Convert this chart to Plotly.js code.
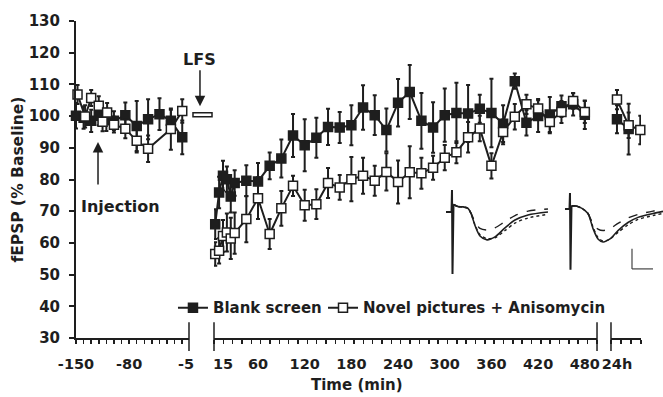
<!DOCTYPE html>
<html><head><meta charset="utf-8">
<script src="https://cdn.plot.ly/plotly-3.0.1.min.js"></script>
<style>html,body{margin:0;padding:0;background:#fff;}#chart{width:663px;height:397px;}</style>
</head><body><div id="chart"></div>
<script>
// ---------- data ----------
// baseline (min before LFS)
const blankBaseT   = [-150,-140,-130,-120,-110,-100,-85,-70,-55,-40,-25,-10];
const blankBaseY   = [100.1,99.5,98.5,100.1,98.8,98.5,100.3,96.9,99.0,100.6,98.5,93.3];
const blankBaseErr = [4,3.5,3.5,3,3.5,3,4,7.9,6.3,5,3.5,5.3];
const novelBaseT   = [-148,-138,-130,-120,-115,-109,-100,-85,-70,-55,-25,-10];
const novelBaseY   = [106.8,99.9,105.7,103.3,98.2,101.1,97.3,96.0,92.2,89.7,95.9,101.6];
const novelBaseErr = [3,3.5,2.5,3,3,3,2.5,3,3.7,4.2,6.5,3.7];
// post-LFS (min)
const postT = [5,10,15,20,25,30,45,60,75,90,105,120,135,150,165,180,195,210,225,240,255,270,285,300,315,330,345,360,375,390,405,420,435,450,465,480];
const blankPostY = [65.9,75.9,81.2,80.1,74.6,78.9,79.6,79.4,84.3,86.6,93.9,90.8,93.2,96.6,96.4,97.1,102.7,100.3,95.6,104.2,107.6,98.5,96.4,100.3,101.0,100.8,102.3,101.0,97.6,111.0,97.9,100.0,100.5,103.1,103.7,100.4];
const blankPostErr = [4.7,5,4.7,4,5,4,4.9,5.8,4.2,6,6.8,8.2,6.3,5.7,4.9,6.3,7,6.3,6.8,7.5,8.5,8.8,8,8.4,9.5,9,4.4,10.8,5.8,2.4,4,5,5.5,3.4,3.5,4.5];
const novelPostY = [56.5,57.5,62.2,63.3,61.4,63.1,67.5,74.1,62.8,70.9,78.0,71.9,72.2,78.9,77.5,80.1,81.2,79.6,82.4,79.2,82.3,82.0,83.7,86.9,88.6,93.3,96.1,84.3,95.0,99.8,103.7,102.4,98.1,101.3,104.8,101.3];
const novelPostErr = [3.7,4,5,6,6.5,6.5,7.3,6.6,4.7,5.5,3.2,4.9,4.7,4.7,3.9,7,5.7,4.7,5.9,6.8,8.2,4.9,3.8,4,3.5,4.8,4,4,3.9,4,3,3,3.5,3.5,2.5,3.5];
// 24 h
const blankDayT = [1440,1455];
const blankDayY = [99.0,95.9];
const blankDayErr = [4.4,8];
const novelDayT = [1440,1455,1470];
const novelDayY = [105.2,97.1,95.6];
const novelDayErr = [3,4,4.5];
// tick labels
const baseTickVals = [-150,-80,-5];
const baseTickText = ['-150','-80','-5'];
const postTickVals = [15,60,120,180,240,300,360,420,480];
const postTickText = ['15','60','120','180','240','300','360','420','480'];
const dayTickVals = [1440];
const dayTickText = ['24h'];
// sample fEPSP traces (ms, mV)
const art1T = [0.6,1.15,1.2,1.25,1.35];
const art1V = [0,0,0.73,-2.07,0.25];
const wave1T = [1.35,1.8,2.3,2.8,3.1,3.5,4.0,4.7,5.5,6.5,7.5,8.8,10.8];
const wave1Solid  = [0.25,0.18,0.17,0.12,-0.05,-0.45,-0.8,-0.93,-0.83,-0.53,-0.27,-0.1,0.0];
const wave1Dashed = [0.25,0.18,0.17,0.12,-0.04,-0.33,-0.55,-0.6,-0.53,-0.32,-0.12,0.03,0.1];
const wave1Dotted = [0.25,0.18,0.17,0.12,-0.05,-0.43,-0.76,-0.89,-0.86,-0.62,-0.37,-0.2,-0.08];
const art2T = [0.7,1.15,1.2,1.25,1.35];
const art2V = [0.1,0.1,0.63,-1.93,0.2];
const wave2T = [1.35,1.8,2.4,3.0,3.5,4.0,4.5,5.2,6.0,7.0,8.0,9.5,10.5];
const wave2Solid  = [0.2,0.2,0.12,-0.05,-0.55,-0.9,-1.0,-0.9,-0.62,-0.35,-0.18,-0.05,0.02];
const wave2Dashed = [0.2,0.2,0.12,-0.05,-0.4,-0.57,-0.62,-0.55,-0.38,-0.2,-0.08,0.03,0.08];
const wave2Dotted = [0.2,0.2,0.12,-0.05,-0.5,-0.85,-0.97,-0.9,-0.68,-0.43,-0.25,-0.12,-0.05];

// ---------- styling ----------
const INK = '#1e1e1e';
const FONT = 'DejaVu Sans, Verdana, sans-serif';
function f(size) { return {family: FONT, size: size, color: INK, weight: 'bold'}; }

function series(x, y, err, xa, filled, name, showleg, leg) {
  return {
    type: 'scatter', mode: 'lines+markers', x: x, y: y, xaxis: xa, yaxis: 'y',
    name: name, legendgroup: name, showlegend: showleg, legend: leg,
    line: {color: INK, width: 2},
    marker: {symbol: 'square', size: 9, color: filled ? INK : '#ffffff', line: {color: INK, width: 1.5}},
    error_y: {type: 'data', array: err, visible: true, color: INK, thickness: 2, width: 2},
    cliponaxis: false, hoverinfo: 'skip'
  };
}
function wave(x, y, xa, ya, dash, w) {
  return {type: 'scatter', mode: 'lines', x: x, y: y, xaxis: xa, yaxis: ya, showlegend: false,
    line: {color: INK, width: w || 1.4, dash: dash || 'solid', shape: 'spline', smoothing: 0.8}, hoverinfo: 'skip', cliponaxis: false};
}
function artifact(x, y, xa, ya) {
  return {type: 'scatter', mode: 'lines', x: x, y: y, xaxis: xa, yaxis: ya, showlegend: false,
    line: {color: INK, width: 2}, hoverinfo: 'skip', cliponaxis: false};
}

const data = [
  series(blankBaseT, blankBaseY, blankBaseErr, 'x', true, 'Blank screen', false, 'legend'),
  series(postT, blankPostY, blankPostErr, 'x2', true, 'Blank screen', true, 'legend'),
  series(blankDayT, blankDayY, blankDayErr, 'x3', true, 'Blank screen', false, 'legend'),
  series(novelBaseT, novelBaseY, novelBaseErr, 'x', false, 'Novel pictures + Anisomycin', false, 'legend2'),
  series(postT, novelPostY, novelPostErr, 'x2', false, 'Novel pictures + Anisomycin', true, 'legend2'),
  series(novelDayT, novelDayY, novelDayErr, 'x3', false, 'Novel pictures + Anisomycin', false, 'legend2'),
  artifact(art1T, art1V, 'x4', 'y4'),
  wave(wave1T, wave1Dashed, 'x4', 'y4', 'dash'),
  wave(wave1T, wave1Dotted, 'x4', 'y4', 'dot'),
  wave(wave1T, wave1Solid, 'x4', 'y4', 'solid', 1.6),
  artifact(art2T, art2V, 'x5', 'y5'),
  wave(wave2T, wave2Dashed, 'x5', 'y5', 'dash'),
  wave(wave2T, wave2Dotted, 'x5', 'y5', 'dot'),
  wave(wave2T, wave2Solid, 'x5', 'y5', 'solid', 1.6)
];

function segAxis(domain, range, tv, tt, tick0, dtick) {
  return {
    domain: domain, range: range, anchor: 'y', showline: true, linewidth: 2, linecolor: INK,
    zeroline: false, showgrid: false, tickmode: 'array', tickvals: tv, ticktext: tt,
    ticks: '', tickfont: f(14.5), ticklabelstandoff: 12,
    minor: {tickmode: 'linear', tick0: tick0, dtick: dtick, ticks: 'outside', ticklen: 4, tickwidth: 1.5, tickcolor: INK, showgrid: false}
  };
}
const hidden = {visible: false, showgrid: false, zeroline: false, fixedrange: true};
const legendBase = {orientation: 'h', xanchor: 'left', y: 0.095, yanchor: 'middle',
  bgcolor: 'rgba(0,0,0,0)', font: f(15), itemwidth: 30};

const layout = {
  width: 663, height: 397,
  margin: {l: 76, r: 0, t: 21, b: 59},
  paper_bgcolor: '#ffffff', plot_bgcolor: 'rgba(0,0,0,0)',
  font: f(15),
  showlegend: true,
  legend: Object.assign({x: 0.1652}, legendBase),
  legend2: Object.assign({x: 0.4208}, legendBase),
  xaxis: segAxis([0, 0.1925], [-150, -1.1], baseTickVals, baseTickText, -150, 10),
  xaxis2: segAxis([0.2351, 0.8876], [3.45, 495.7], postTickVals, postTickText, 3.45, 12),
  xaxis3: segAxis([0.9114, 0.9625], [1432.3, 1470.9], dayTickVals, dayTickText, 1432.3, 12.85),
  yaxis: {domain: [0, 1], range: [30, 130], anchor: 'x', showline: true, linewidth: 2, linecolor: INK,
    zeroline: false, showgrid: false, tickmode: 'linear', tick0: 30, dtick: 10, ticks: 'outside',
    ticklen: 5, tickwidth: 2, tickcolor: INK, tickfont: f(15), ticklabelstandoff: 6},
  xaxis4: Object.assign({domain: [0.6201, 0.8245], range: [0, 12], anchor: 'y4'}, hidden),
  yaxis4: Object.assign({domain: [0.183, 0.4826], range: [-2.27, 0.9], anchor: 'x4'}, hidden),
  xaxis5: Object.assign({domain: [0.8211, 1], range: [0, 10.5], anchor: 'y5'}, hidden),
  yaxis5: Object.assign({domain: [0.183, 0.4826], range: [-2.27, 0.9], anchor: 'x5'}, hidden),
  shapes: [
    {type: 'line', xref: 'x domain', x0: 1, x1: 1, yref: 'paper', y0: -0.041, y1: 0.05, line: {color: INK, width: 1.5}},
    {type: 'line', xref: 'x2 domain', x0: 0, x1: 0, yref: 'paper', y0: -0.041, y1: 0.05, line: {color: INK, width: 1.5}},
    {type: 'line', xref: 'x2 domain', x0: 1, x1: 1, yref: 'paper', y0: -0.041, y1: 0.05, line: {color: INK, width: 1.5}},
    {type: 'line', xref: 'x3 domain', x0: 0, x1: 0, yref: 'paper', y0: -0.041, y1: 0.05, line: {color: INK, width: 1.5}},
    {type: 'rect', xref: 'paper', x0: 0.1993, x1: 0.2317, yref: 'y', y0: 99.8, y1: 101.07, line: {color: INK, width: 1.5}, fillcolor: '#ffffff'},
    {type: 'line', xref: 'x5', yref: 'y5', x0: 7.4, x1: 7.4, y0: -1.23, y1: -1.9, line: {color: '#444', width: 1.2}},
    {type: 'line', xref: 'x5', yref: 'y5', x0: 7.4, x1: 9.5, y0: -1.9, y1: -1.9, line: {color: '#444', width: 1.2}}
  ],
  annotations: [
    {xref: 'paper', yref: 'y', x: 0.2112, y: 103.1, text: 'LFS', showarrow: true, arrowhead: 2, arrowsize: 1.4, arrowwidth: 1.5, arrowcolor: INK, ax: 0, ay: -47, font: f(16)},
    {xref: 'x', yref: 'y', x: -121, y: 91.8, text: '', showarrow: true, arrowhead: 2, arrowsize: 1.4, arrowwidth: 1.5, arrowcolor: INK, ax: 0, ay: 44},
    {xref: 'paper', yref: 'paper', x: 0.075, y: 0.4164, xanchor: 'center', yanchor: 'middle', text: 'Injection', showarrow: false, font: f(16)},
    {xref: 'paper', yref: 'paper', x: -0.1005, y: 0.5, xanchor: 'center', yanchor: 'middle', text: 'fEPSP (% Baseline)', textangle: -90, showarrow: false, font: f(15.5)},
    {xref: 'paper', yref: 'paper', x: 0.4787, y: -0.148, xanchor: 'center', yanchor: 'middle', text: 'Time (min)', showarrow: false, font: f(15)}
  ]
};

Plotly.newPlot('chart', data, layout, {staticPlot: true, displayModeBar: false});
</script>
</body></html>
